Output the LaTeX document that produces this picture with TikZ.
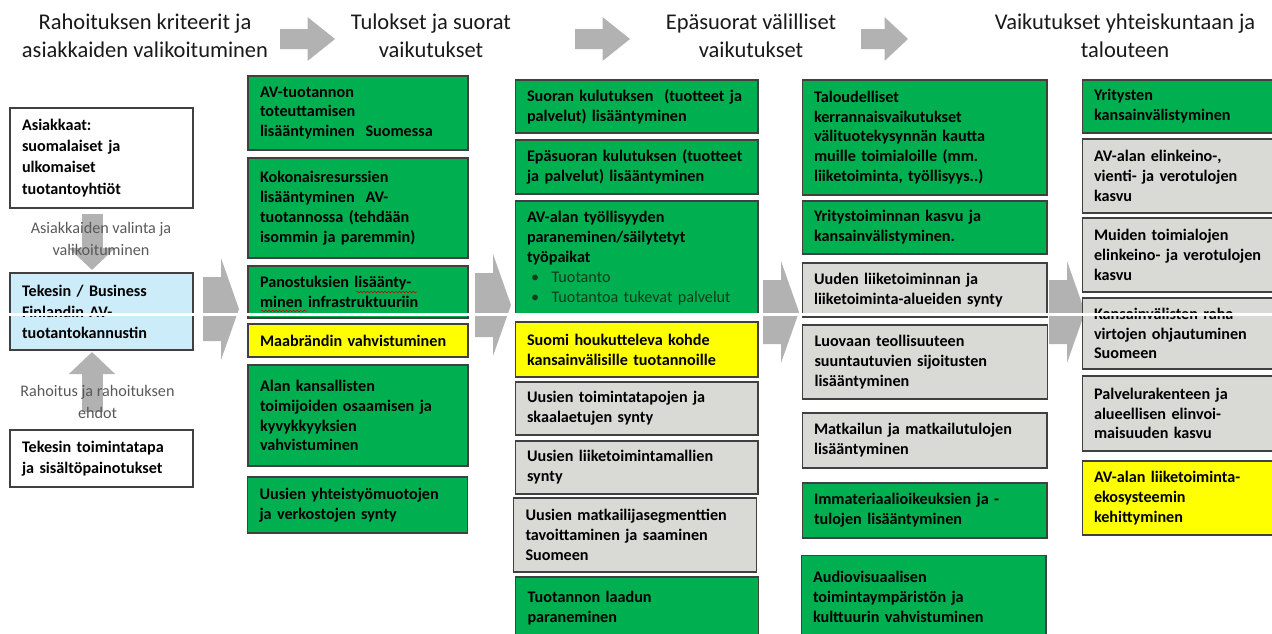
\documentclass[tikz,border=0pt]{standalone}
\usepackage{fontspec}
\setmainfont{Carlito}
\usetikzlibrary{arrows.meta,decorations.pathmorphing}

\definecolor{avgreen}{RGB}{0,176,80}
\definecolor{avyellow}{RGB}{255,255,0}
\definecolor{avgray}{RGB}{217,217,214}
\definecolor{avblue}{RGB}{204,236,250}
\definecolor{boxline}{RGB}{64,64,64}
\definecolor{arrowgray}{RGB}{178,178,178}
\definecolor{labelgray}{RGB}{89,89,89}
\definecolor{bullettext}{RGB}{20,60,30}

\begin{document}
\begin{tikzpicture}[x=0.02cm, y=-0.02cm,
    box/.style={draw=boxline, line width=0.6pt, inner xsep=0.24cm, inner ysep=2pt,
        align=left, text=black, font=\fontsize{9.2}{11.3}\selectfont\bfseries},
    greenbox/.style={box, fill=avgreen},
    yellowbox/.style={box, fill=avyellow},
    graybox/.style={box, fill=avgray},
    bluebox/.style={box, fill=avblue},
    whitebox/.style={box, fill=white},
    leftcol/.style={text width=3.18cm, font=\fontsize{9.2}{12}\selectfont\bfseries},
    rescol/.style={text width=3.92cm},
    indcol/.style={text width=4.38cm},
    effcol/.style={text width=4.42cm},
    soccol/.style={text width=3.68cm},
    heading/.style={align=center, inner sep=0pt, text={black!90},
        font=\fontsize{12.8}{15.9}\selectfont},
    flowlabel/.style={align=center, inner sep=0pt, text=labelgray,
        font=\fontsize{9.2}{12.4}\selectfont},
    blockarr/.style={draw=arrowgray, line width=0.42cm,
        -{Triangle[width=0.9cm,length=0.44cm]}},
    spellmark/.style={draw=red!80!black, line width=0.3pt, decorate,
        decoration={snake, amplitude=0.5pt, segment length=2pt}}]
    \useasboundingbox (0,0) rectangle (1272,633);
    \clip (0,0) rectangle (1272,633);

    % headings and the arrows between them
    \node[heading] (h1) at (145,36) {Rahoituksen kriteerit ja\\asiakkaiden valikoituminen};
    \node[heading] (h2) at (431,36) {Tulokset ja suorat\\vaikutukset};
    \node[heading] (h3) at (751,36) {Epäsuorat välilliset\\vaikutukset};
    \node[heading] (h4) at (1125,36) {Vaikutukset yhteiskuntaan ja\\talouteen};
    \foreach \x/\l in {280/55, 575/55, 861/47}
        \fill[arrowgray] (\x,29) -- (\x+\l/2,29) -- (\x+\l/2,17) -- (\x+\l,39)
            -- (\x+\l/2,61) -- (\x+\l/2,49) -- (\x,49) -- cycle;

    % big arrows between the columns
    \foreach \x/\y in {203/309, 475/305, 763/312, 1049/312}
        \fill[arrowgray] (\x,\y-32) -- (\x+18,\y-32) -- (\x+18,\y-51) -- (\x+36,\y)
            -- (\x+18,\y+51) -- (\x+18,\y+32) -- (\x,\y+32) -- cycle;

    % funding criteria
    \node[whitebox, leftcol, minimum height=2.00cm] (clients) at (101.5,158)
        {Asiakkaat:\\suomalaiset ja\\ulkomaiset\\tuotantoyhtiöt};
    \node[bluebox, leftcol, minimum height=1.54cm] (tekes) at (101.5,311.5)
        {Tekesin / Business\\Finlandin AV-\\tuotantokannustin};
    \node[whitebox, leftcol, minimum height=1.14cm] (practice) at (101.5,458.5)
        {Tekesin toimintatapa\\ja sisältöpainotukset};
    \draw[blockarr, shorten <=0.1cm, shorten >=0.05cm]
        ([xshift=-0.19cm]clients.south) -- ([xshift=-0.19cm]tekes.north);
    \draw[blockarr, shorten <=0.34cm, shorten >=0.03cm]
        ([xshift=-0.19cm]practice.north) -- ([xshift=-0.19cm]tekes.south);
    \node[flowlabel] (select) at (101,239) {Asiakkaiden valinta ja\\valikoituminen};
    \node[flowlabel] (funding) at (97.5,402) {Rahoitus ja rahoituksen\\ehdot};

    % direct results
    \node[greenbox, rescol, minimum height=1.48cm] (res1) at (358,113)
        {AV-tuotannon\\toteuttamisen\\lisääntyminen\ \ Suomessa};
    \node[greenbox, rescol, minimum height=2.00cm] (res2) at (358,208)
        {Kokonaisresurssien\\lisääntyminen\ \ AV-\\tuotannossa (tehdään\\isommin ja paremmin)};
    \node[greenbox, rescol, minimum height=1.04cm] (res3) at (358,292)
        {Panostuksien lisäänty-\\minen infrastruktuuriin};
    \node[yellowbox, rescol, minimum height=0.66cm] (res4) at (358,340.5)
        {Maabrändin vahvistuminen};
    \node[greenbox, rescol, minimum height=2.02cm] (res5) at (358,415.5)
        {Alan kansallisten\\toimijoiden osaamisen ja\\kyvykkyyksien\\vahvistuminen};
    \node[greenbox, rescol, minimum height=1.12cm] (res6) at (357.5,505)
        {Uusien yhteistyömuotojen\\ja verkostojen synty};
    \draw[spellmark] (356,292) -- (417,292);
    \draw[spellmark] (261,311) -- (307,311);

    % indirect effects
    \node[greenbox, indcol, minimum height=1.06cm] (ind1) at (636.5,106.5)
        {Suoran kulutuksen\ \ (tuotteet ja\\palvelut) lisääntyminen};
    \node[greenbox, indcol, minimum height=1.08cm] (ind2) at (636.5,167)
        {Epäsuoran kulutuksen (tuotteet\\ja palvelut) lisääntyminen};
    \node[greenbox, indcol, minimum height=2.28cm] (ind3) at (636.5,258)
        {AV-alan työllisyyden\\paraneminen/säilytetyt\\työpaikat\\
        \mdseries\color{bullettext}\makebox[14pt][l]{\hspace{2.3pt}\textbullet}Tuotanto\\
        \makebox[14pt][l]{\hspace{2.3pt}\textbullet}Tuotantoa tukevat palvelut};
    \node[yellowbox, indcol, minimum height=1.10cm] (ind4) at (636.5,349.5)
        {Suomi houkutteleva kohde\\kansainvälisille tuotannoille};
    \node[graybox, indcol, minimum height=1.06cm] (ind5) at (636.5,408.5)
        {Uusien toimintatapojen ja\\skaalaetujen synty};
    \node[graybox, indcol, minimum height=1.06cm] (ind6) at (636.5,467.5)
        {Uusien liiketoimintamallien\\synty};
    \node[graybox, indcol, minimum height=1.48cm] (ind7) at (635,535)
        {Uusien matkailijasegmenttien\\tavoittaminen ja saaminen\\Suomeen};
    \node[greenbox, indcol, minimum height=1.24cm] (ind8) at (637,608)
        {Tuotannon laadun\\paraneminen};

    % wider effects
    \node[greenbox, effcol, minimum height=2.30cm] (eff1) at (924.5,137.5)
        {Taloudelliset\\kerrannaisvaikutukset\\välituotekysynnän kautta\\muille toimialoille (mm.\\liiketoiminta, työllisyys..)};
    \node[greenbox, effcol, minimum height=1.06cm] (eff2) at (924.5,227.5)
        {Yritystoiminnan kasvu ja\\kansainvälistyminen.};
    \node[graybox, effcol, minimum height=1.08cm] (eff3) at (924.5,290)
        {Uuden liiketoiminnan ja\\liiketoiminta-alueiden synty};
    \node[graybox, effcol, minimum height=1.48cm] (eff4) at (925,362)
        {Luovaan teollisuuteen\\suuntautuvien sijoitusten\\lisääntyminen};
    \node[graybox, effcol, minimum height=1.10cm] (eff5) at (924.5,440.5)
        {Matkailun ja matkailutulojen\\lisääntyminen};
    \node[greenbox, effcol, minimum height=1.10cm] (eff6) at (924.5,510.5)
        {Immateriaalioikeuksien ja -\\tulojen lisääntyminen};
    \node[greenbox, effcol, minimum height=1.66cm] (eff7) at (923.5,597)
        {Audiovisuaalisen\\toimintaympäristön ja\\kulttuurin vahvistuminen};

    % society and economy
    \node[greenbox, soccol, minimum height=1.06cm] (soc1) at (1186,106.5)
        {Yritysten\\kansainvälistyminen};
    \node[graybox, soccol, minimum height=1.48cm] (soc2) at (1186,176)
        {AV-alan elinkeino-,\\vienti- ja verotulojen\\kasvu};
    \node[graybox, soccol, minimum height=1.48cm] (soc3) at (1186,255)
        {Muiden toimialojen\\elinkeino- ja verotulojen\\kasvu};
    \node[graybox, soccol, minimum height=1.42cm] (soc4) at (1186,333.5)
        {Kansainvälisten raha\\virtojen ohjautuminen\\Suomeen};
    \node[graybox, soccol, minimum height=1.50cm] (soc5) at (1186,413.5)
        {Palvelurakenteen ja\\alueellisen elinvoi-\\maisuuden kasvu};
    \node[yellowbox, soccol, minimum height=1.48cm] (soc6) at (1186,498)
        {AV-alan liiketoiminta-\\ekosysteemin\\kehittyminen};

    % scan line across the picture
    \fill[white] (0,312.5) rectangle (1272,315.5);
\end{tikzpicture}
\end{document}
